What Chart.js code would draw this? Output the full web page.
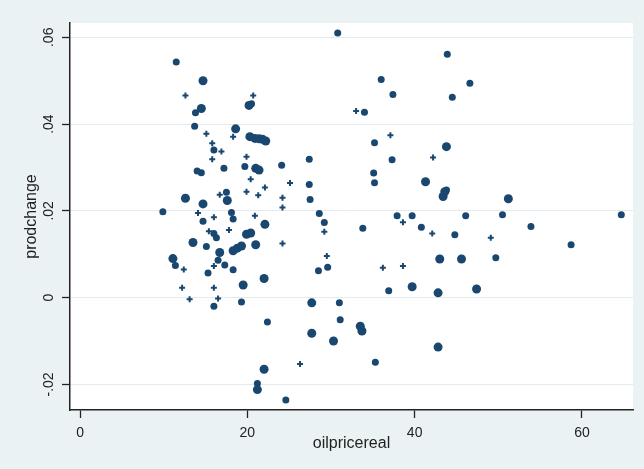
<!DOCTYPE html>
<html>
<head>
<meta charset="utf-8">
<script src="https://cdn.jsdelivr.net/npm/chart.js@4.4.1/dist/chart.umd.min.js"></script>
<style>
  html, body { margin: 0; padding: 0; background: #eaf2f3; }
  #wrap { width: 644px; height: 469px; }
</style>
</head>
<body>
<div id="wrap"><canvas id="scatter" width="644" height="469"></canvas></div>
<script>
// oilpricereal / prodchange, grouped by marker size as seen in the picture
const bigX = [11.1, 12.6, 13.5, 14.5, 14.7, 14.7, 16.7, 17.6, 18.6, 18.3, 18.8, 19.3, 19.5, 19.9, 20.2, 20.3, 20.4, 20.9, 21.0, 21.0, 21.2, 21.4, 21.4, 21.8, 22.1, 22.0, 22.0, 22.2, 27.7, 27.7, 30.3, 33.5, 33.7, 39.7, 41.3, 42.8, 42.8, 43.0, 43.4, 43.6, 43.8, 45.6, 47.4, 51.2];
const bigY = [.0090, .0229, .0127, .0436, .0500, .0216, .0104, .0224, .0389, .0108, .0114, .0119, .0029, .0146, .0443, .0371, .0149, .0367, .0298, .0122, -.0212, .0294, .0366, .0365, .0169, .0044, -.0165, .0361, -.0012, -.0082, -.0100, -.0066, -.0077, .0025, .0267, -.0114, .0011, .0089, .0233, .0244, .0348, .0089, .0020, .0228];

const midX = [9.9, 11.5, 11.4, 13.7, 13.8, 14.0, 14.5, 14.7, 15.1, 15.3, 16.0, 16.0, 16.3, 16.0, 16.5, 17.2, 17.3, 17.5, 18.1, 18.3, 18.3, 19.3, 19.7, 20.5, 21.2, 22.4, 24.1, 24.6, 27.4, 27.4, 27.5, 28.6, 28.5, 29.2, 29.6, 30.8, 31.0, 31.1, 34.0, 33.8, 35.1, 35.2, 35.2, 35.3, 36.0, 36.9, 37.3, 37.4, 37.9, 39.7, 40.8, 43.8, 43.9, 44.5, 44.8, 46.1, 46.6, 49.7, 50.5, 53.9, 58.7, 64.7];
const midY = [.0198, .0543, .0074, .0395, .0426, .0292, .0288, .0176, .0118, .0057, .0340, .0148, .0138, -.0020, .0086, .0298, .0075, .0243, .0196, .0181, .0064, -.0010, .0302, .0447, -.0198, -.0056, .0305, -.0236, .0261, .0319, .0226, .0194, .0062, .0173, .0070, .0610, -.0012, -.0051, .0427, .0160, .0287, .0265, .0357, -.0149, .0503, .0016, .0318, .0468, .0189, .0189, .0162, .0248, .0561, .0462, .0145, .0189, .0494, .0092, .0191, .0164, .0122, .0191];

const smallX = [12.4, 12.2, 12.6, 13.1, 14.1, 15.1, 15.4, 15.8, 15.8, 16.0, 16.0, 16.0, 16.5, 16.9, 16.7, 17.8, 18.3, 19.9, 19.9, 20.4, 20.7, 20.9, 21.3, 22.1, 24.2, 24.2, 24.2, 25.1, 26.3, 29.2, 29.5, 33.0, 36.2, 37.1, 38.6, 38.6, 42.1, 42.2, 49.1];
const smallY = [.0065, .0023, .0466, -.0004, .0195, .0378, .0153, .0356, .0319, .0185, .0073, .0023, -.0002, .0337, .0237, .0156, .0371, .0325, .0244, .0273, .0466, .0189, .0236, .0254, .0230, .0208, .0125, .0264, -.0153, .0152, .0096, .0430, .0069, .0374, .0174, .0073, .0148, .0323, .0138];

const xTicks = [0, 20, 40, 60];
const yTicks = [-0.02, 0, 0.02, 0.04, 0.06];
const yTickLabels = ['-.02', '0', '.02', '.04', '.06'];

const navy = '#1a476f';
const ink = '#222222';
const fontFamily = "'Liberation Sans', Arial, sans-serif";

function toPoints(xs, ys) {
    return xs.map((x, i) => ({ x: x, y: ys[i] }));
}

// stata-like look: bluish grey frame, white plot region
const plotBackground = {
    id: 'plotBackground',
    beforeDraw(chart) {
        const ctx = chart.ctx;
        const a = chart.chartArea;
        ctx.save();
        ctx.fillStyle = '#eaf2f3';
        ctx.fillRect(0, 0, chart.width, chart.height);
        ctx.fillStyle = '#ffffff';
        ctx.fillRect(a.left, a.top, a.right - a.left, a.bottom - a.top);
        ctx.restore();
    }
};

new Chart(document.getElementById('scatter').getContext('2d'), {
    type: 'scatter',
    data: {
        datasets: [
            {
                label: 'big',
                data: toPoints(bigX, bigY),
                pointStyle: 'circle',
                pointRadius: 4.5,
                backgroundColor: navy,
                borderWidth: 0
            },
            {
                label: 'medium',
                data: toPoints(midX, midY),
                pointStyle: 'circle',
                pointRadius: 3.5,
                backgroundColor: navy,
                borderWidth: 0
            },
            {
                label: 'small',
                data: toPoints(smallX, smallY),
                pointStyle: 'cross',
                pointRadius: 3,
                borderColor: navy,
                borderWidth: 2
            }
        ]
    },
    options: {
        responsive: false,
        animation: false,
        events: [],
        layout: { padding: { top: 23, right: 11, left: 0, bottom: 0 } },
        plugins: {
            legend: { display: false },
            tooltip: { enabled: false }
        },
        scales: {
            x: {
                type: 'linear',
                min: -1.2,
                max: 66.1,
                afterBuildTicks: s => { s.ticks = xTicks.map(v => ({ value: v })); },
                afterFit: s => { s.height = 59; },
                grid: { drawOnChartArea: false, tickLength: 8, tickColor: ink, tickWidth: 1.3 },
                border: { color: ink, width: 1.5 },
                ticks: {
                    font: { family: fontFamily, size: 14 },
                    color: ink,
                    padding: 7,
                    callback: v => String(v)
                },
                title: {
                    display: true,
                    text: 'oilpricereal',
                    font: { family: fontFamily, size: 16 },
                    color: ink,
                    padding: { top: 0, bottom: 16 }
                }
            },
            y: {
                type: 'linear',
                min: -0.0259,
                max: 0.0633,
                afterBuildTicks: s => { s.ticks = yTicks.map(v => ({ value: v })); },
                afterFit: s => { s.width = 70; },
                grid: { color: '#e3ebee', lineWidth: 1, tickLength: 8, tickColor: ink, tickWidth: 1.3 },
                border: { color: ink, width: 1.5 },
                ticks: {
                    minRotation: 90,
                    maxRotation: 90,
                    crossAlign: 'center',
                    padding: 1,
                    font: { family: fontFamily, size: 14 },
                    color: ink,
                    callback: (v, i) => yTickLabels[i]
                },
                title: {
                    display: true,
                    text: 'prodchange',
                    font: { family: fontFamily, size: 16 },
                    color: ink,
                    padding: { top: 22.4, bottom: 0 }
                }
            }
        }
    },
    plugins: [plotBackground]
});
</script>
</body>
</html>
